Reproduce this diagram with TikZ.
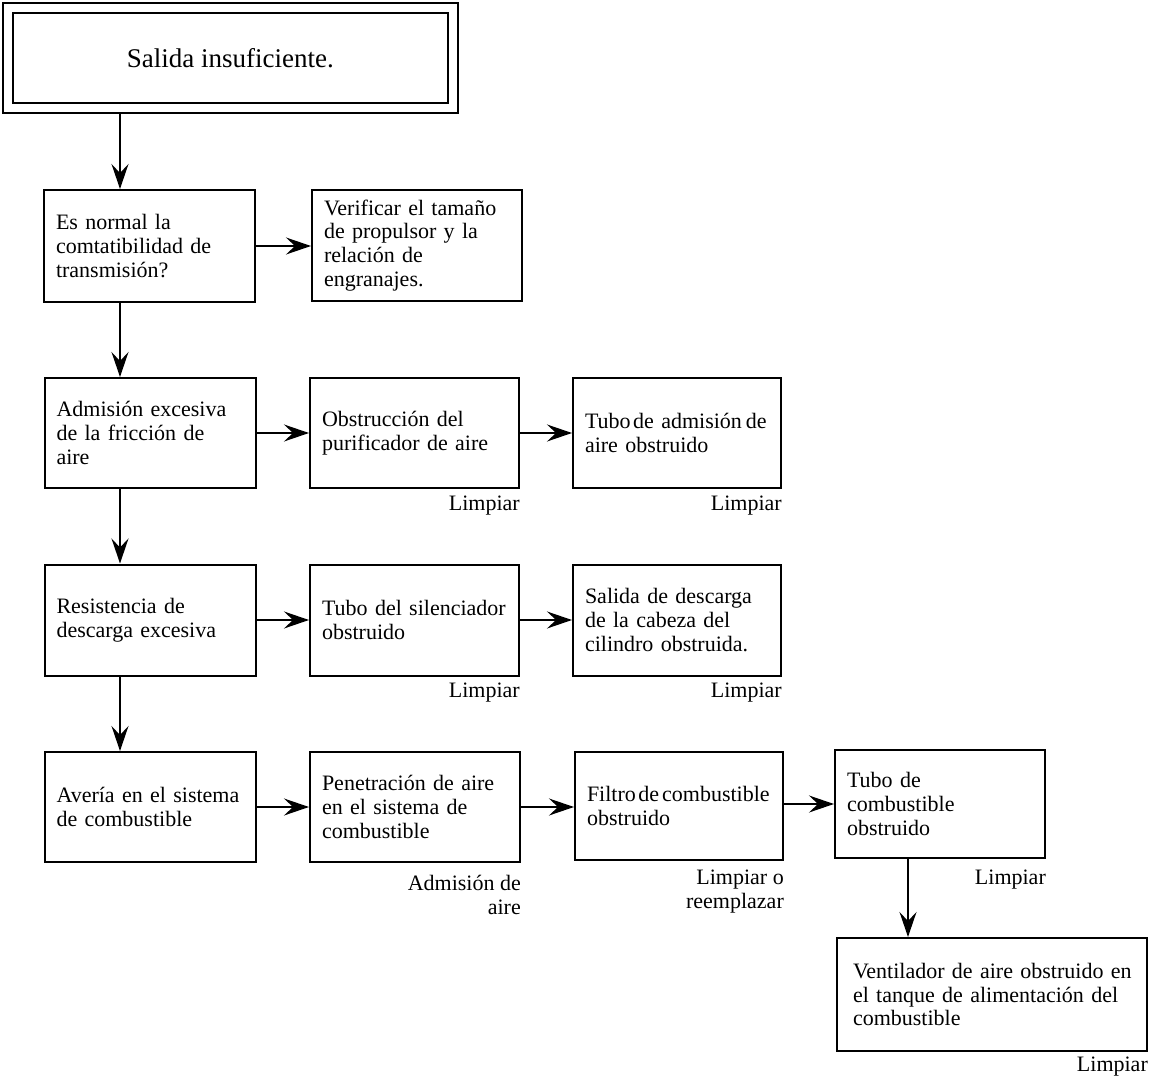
\documentclass[tikz,border=0pt]{standalone}
\usepackage{fontspec}
\setmainfont{Liberation Serif}
\usetikzlibrary{arrows.meta}
\begin{document}
\begin{tikzpicture}[x=1pt,y=-1pt,
  box/.style={draw, line width=2pt, rectangle, inner xsep=12pt, inner ysep=0pt, align=left,
    font=\fontsize{22}{23.8}\selectfont},
  arr/.style={line width=1.8pt, -{Stealth[length=25pt,width=17pt,inset=9pt]}},
  lbl/.style={inner sep=0pt, align=right, anchor=north east, font=\fontsize{22}{23.8}\selectfont}]
\useasboundingbox[fill=white] (0,0) rectangle (1152,1078);

\node[draw, double, double distance=8pt, line width=2pt, outer sep=6pt,
      minimum width=444.5pt, minimum height=100.5pt, inner sep=0pt,
      font=\fontsize{27}{30}\selectfont] (top) at (230.25,58.25) {Salida insuficiente.};

% row 1
\node[box, minimum width=211pt, text width=187pt, minimum height=112pt] (b11) at (149.5,246)
  {Es normal la\\comtatibilidad de\\transmisión?};
\node[box, minimum width=210pt, text width=186pt, minimum height=111pt] (b12) at (417,245.5)
  {Verificar el tamaño\\de propulsor y la\\relación de\\engranajes.};

% row 2
\node[box, minimum width=211pt, text width=187pt, minimum height=110pt] (b21) at (150,433)
  {Admisión excesiva\\de la fricción de\\aire};
\node[box, minimum width=209pt, text width=185pt, minimum height=110pt] (b22) at (414.5,433)
  {Obstrucción del\\purificador de aire};
\node[box, minimum width=208pt, text width=184pt, minimum height=110pt] (b23) at (677,433)
  {\mbox{Tubo\hspace{2.5pt}de admisión\hspace{4pt}de}\\aire obstruido};

% row 3
\node[box, minimum width=211pt, text width=187pt, minimum height=111pt] (b31) at (150,620)
  {Resistencia de\\descarga excesiva};
\node[box, minimum width=209pt, text width=185pt, minimum height=111pt] (b32) at (414.5,620)
  {Tubo del silenciador\\obstruido};
\node[box, minimum width=208pt, text width=184pt, minimum height=111pt] (b33) at (677,620)
  {Salida de descarga\\de la cabeza del\\cilindro obstruida.};

% row 4
\node[box, minimum width=211pt, text width=187pt, minimum height=110pt] (b41) at (150,807)
  {Avería en el sistema\\de combustible};
\node[box, minimum width=210pt, text width=186pt, minimum height=110pt] (b42) at (415,807)
  {Penetración de aire\\en el sistema de\\combustible};
\node[box, minimum width=208pt, text width=184pt, minimum height=108pt] (b43) at (679,806)
  {\mbox{Filtro\hspace{2.5pt}de\hspace{3pt}combustible}\\obstruido};
\node[box, minimum width=210pt, text width=186pt, minimum height=108pt] (b44) at (940,804)
  {Tubo de\\combustible\\obstruido};

% bottom
\node[box, inner xsep=16pt, minimum width=310pt, text width=278pt, minimum height=113pt] (b5) at (992,994.5)
  {\makebox[\linewidth][s]{Ventilador de aire obstruido en}\\
   \makebox[\linewidth][s]{el tanque de alimentación del}\\
   combustible};

% labels
\node[lbl] (l22) at ([yshift=-7pt]b22.south east) {Limpiar};
\node[lbl] (l23) at ([yshift=-7pt]b23.south east) {Limpiar};
\node[lbl] (l32) at ([yshift=-6pt]b32.south east) {Limpiar};
\node[lbl] (l33) at ([yshift=-6pt]b33.south east) {Limpiar};
\node[lbl] (l42) at ([yshift=-12pt]b42.south east) {Admisión de\\aire};
\node[lbl] (l43) at ([yshift=-9pt]b43.south east) {Limpiar o\\reemplazar};
\node[lbl] (l44) at ([yshift=-11pt]b44.south east) {Limpiar};
\node[lbl] (l5) at ([yshift=-5pt]b5.south east) {Limpiar};

% arrows
\coordinate (vx) at (120,0);
\coordinate (vy) at (908,0);
\draw[arr] (top.south -| vx) -- (b11.north -| vx);
\draw[arr] (b11.south -| vx) -- (b21.north -| vx);
\draw[arr] (b21.south -| vx) -- (b31.north -| vx);
\draw[arr] (b31.south -| vx) -- (b41.north -| vx);
\draw[arr] (b44.south -| vy) -- (b5.north -| vy);

\draw[arr] (b11.east) -- (b12.west |- b11.east);
\draw[arr] (b21.east) -- (b22.west);
\draw[arr] (b22.east) -- (b23.west);
\draw[arr] (b31.east) -- (b32.west);
\draw[arr] (b32.east) -- (b33.west);
\draw[arr] (b41.east) -- (b42.west);
\draw[arr] (b42.east) -- (b43.west |- b42.east);
\draw[arr] (b43.east |- b44.west) -- (b44.west);
\end{tikzpicture}
\end{document}
